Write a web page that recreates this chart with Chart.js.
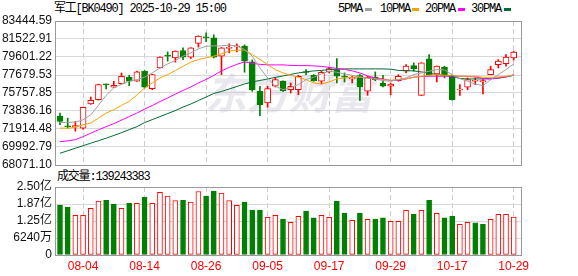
<!DOCTYPE html>
<html lang="zh-CN">
<head>
<meta charset="UTF-8">
<title>军工[BK0490] 日K</title>
<style>
body{margin:0;background:#fff;width:578px;height:276px;overflow:hidden;position:relative;font-family:"Liberation Sans",Arial,sans-serif}
canvas{position:absolute;left:0}
#price{top:0}
#vol{top:175px}
.txt{position:absolute;font-family:"Liberation Mono","Noto Sans CJK SC",monospace;font-size:12px;letter-spacing:-1.2px;color:#000;white-space:nowrap;line-height:14px}
.dash{position:absolute;top:8px;width:7px;height:3px}
</style>
</head>
<body>

<div class="txt" style="left:54px;top:2px">军工[BK0490] 2025-10-29 15:00</div>

<div class="txt" style="left:338px;top:2px">5PMA</div><div class="dash" style="left:365px;background:#a0a0a0"></div>
<div class="txt" style="left:380px;top:2px">10PMA</div><div class="dash" style="left:412px;background:#f5a300"></div>
<div class="txt" style="left:425px;top:2px">20PMA</div><div class="dash" style="left:458px;background:#ff00ff"></div>
<div class="txt" style="left:471px;top:2px">30PMA</div><div class="dash" style="left:504px;background:#006b33"></div>

<div class="txt" style="left:57px;top:170px">成交量:139243383</div>

<canvas id="price" width="578" height="180"></canvas>
<canvas id="vol" width="578" height="101"></canvas>

<script src="https://cdn.jsdelivr.net/npm/chart.js@4.4.1/dist/chart.umd.min.js"></script>
<script>
// trading days shown on the chart
var dates = ['07-30','07-31','08-01','08-04','08-05','08-06','08-07','08-08','08-11','08-12',
  '08-13','08-14','08-15','08-18','08-19','08-20','08-21','08-22','08-25','08-26',
  '08-27','08-28','08-29','09-01','09-02','09-03','09-04','09-05','09-08','09-09',
  '09-10','09-11','09-12','09-15','09-16','09-17','09-18','09-19','09-22','09-23',
  '09-24','09-25','09-26','09-29','09-30','10-09','10-10','10-13','10-14','10-15',
  '10-16','10-17','10-20','10-21','10-22','10-23','10-24','10-27','10-28','10-29'];
var tickDates = ['08-04','08-14','08-26','09-05','09-17','09-29','10-17','10-29'];

var open = [73290,72240,72150,72006,74579,75040,76680,76370,76755,77441,
  77013,78085,76220,78438,79760,79510,80293,79586,81043,81740,
  81655,79693,80529,80690,80765,79082,75940,74686,76477,77013,
  76112,76112,78020,77656,77013,78010,78256,77506,77259,77613,
  75940,77441,76830,76477,77077,78085,78685,75512,79403,77795,
  78514,77656,76080,76370,77013,76938,77720,78792,78899,79510];
var high = [73610,73078,72725,74258,75330,76700,76700,77010,77902,77656,
  78085,78150,77763,79617,80154,80260,80582,80600,81870,82190,
  81976,80615,81011,81011,80904,79296,76477,76477,77366,77045,
  76830,77656,78256,77720,78085,78514,79435,77902,77549,77720,
  77549,78010,77656,76830,77720,78792,78974,79000,79864,78650,
  78600,77700,76648,77366,77366,77184,78620,79328,79864,80229];
var low = [72380,72006,71685,71900,74550,75000,76190,76350,76700,76541,
  76990,76290,76112,78406,79157,79050,79328,79435,80658,81226,
  79500,77720,80046,80154,77977,75940,73325,74226,76402,75920,
  75758,75576,77720,77013,76723,77902,76830,76938,76830,74976,
  75512,77077,76402,75576,77013,77902,78085,75480,77656,76938,
  77366,74990,75512,76112,76648,75651,77700,78438,78620,79264];
var close = [72720,72156,72270,74226,74976,76648,76620,76580,77549,77012,
  78010,76370,77720,79586,79700,80228,79586,80582,81835,81660,
  79586,80582,80636,80797,79157,76080,74504,76219,77184,76005,
  76477,77549,77950,77077,77977,78363,77549,77442,77441,76402,
  77441,77184,76477,76723,77549,78621,78363,78974,77720,78621,
  77720,75040,76155,77184,77120,77077,78256,79157,79586,80122];

var ma5 = [72617,72617,72650,72896,73432,74440,75512,76294,76723,77013,
  77184,77441,77903,78438,78867,79221,79693,80046,80475,80743,
  80797,80797,80872,80765,80400,79693,78438,77366,76477,76112,
  76348,76648,77184,77441,77795,78085,77977,77795,77656,77474,
  77313,77259,77077,77013,77184,77366,77720,77903,78085,78256,
  78224,77720,77291,77013,76723,76541,77184,77720,78256,78867];
var ma10 = [72006,72006,72081,72360,72542,73078,73614,73968,74440,74869,
  75544,76294,76830,77366,77720,78149,78621,79049,79328,79510,
  79693,79939,80229,80336,80336,79864,79328,78792,78256,77902,
  77656,77441,77184,76830,76723,76938,77259,77366,77441,77441,
  77366,77259,77184,77120,77184,77259,77441,77549,77656,77720,
  77656,77656,77549,77549,77549,77441,77420,77474,77549,77656];
var ma20 = [70559,70645,70774,71096,71470,71824,72167,72489,72864,73239,
  73614,74043,74418,74847,75222,75651,76026,76402,76830,77206,
  77634,78117,78492,78814,79082,78921,78814,78760,78760,78760,
  78707,78685,78685,78653,78599,78492,78385,78278,78117,77902,
  77581,77366,77259,77098,77120,77259,77441,77527,77549,77549,
  77549,77549,77549,77527,77474,77313,77291,77366,77474,77720];
var ma30 = [69326,69594,69862,70130,70398,70666,70934,71224,71524,71846,
  72167,72596,72918,73239,73561,73882,74258,74579,74954,75330,
  75705,75920,76187,76455,76723,76938,77098,77259,77420,77581,
  77742,77902,78010,78117,78170,78256,78299,78331,78331,78331,
  78331,78331,78331,78299,78170,78149,78117,78010,77849,77742,
  77634,77527,77313,77259,77259,77259,77259,77334,77474,77634];

var volume = [183000000,176000000,146000000,146000000,171000000,198000000,201000000,187000000,171000000,190000000,
  190000000,212000000,190000000,230000000,216000000,200000000,201000000,194000000,233000000,216000000,
  234000000,227000000,200000000,182000000,194000000,165000000,165000000,138000000,146000000,132000000,
  120000000,142000000,161000000,136000000,146000000,138000000,198000000,154000000,127000000,154000000,
  131000000,132000000,136000000,124000000,124000000,164000000,150000000,164000000,201000000,153000000,
  136000000,143000000,113000000,120000000,118000000,113000000,131000000,149000000,149000000,139243383];
// 1 = red (up) volume bar, 0 = green
var volUp = [0,0,1,1,1,1,0,0,1,0, 1,0,1,1,1,1,0,1,1,0, 0,1,1,1,0,0,0,1,1,0,
  1,1,0,0,1,1,0,0,1,0, 1,0,0,1,1,1,0,1,0,1, 0,0,1,1,0,0,1,1,1,1];

var priceTicks = [68071.10,69992.79,71914.48,73836.16,75757.85,77679.53,79601.22,81522.91,83444.59];
var volTicks = [0,62400000,124800000,187200000,249600000];
var volTickLabels = ['0','6240万','1.25亿','1.87亿','2.50亿'];

var RED = '#ff0000', GREEN = '#008000';
var tickIdx = tickDates.map(function(d){ return dates.indexOf(d); });

var plotBorder = {
  id: 'plotBorder',
  afterDatasetsDraw: function(chart) {
    var a = chart.chartArea, ctx = chart.ctx;
    ctx.save();
    ctx.strokeStyle = '#999';
    ctx.lineWidth = 1;
    ctx.strokeRect(Math.round(a.left) + 0.5, Math.round(a.top) + 0.5,
      Math.round(a.right - a.left) - 1, Math.round(a.bottom - a.top));
    ctx.restore();
  }
};

var watermark = {
  id: 'watermark',
  beforeDatasetsDraw: function(chart) {
    var ctx = chart.ctx;
    ctx.save();
    ctx.font = 'italic bold 42px "Noto Sans CJK SC"';
    ctx.fillStyle = 'rgba(205,205,218,0.45)';
    ctx.textAlign = 'center';
    ctx.textBaseline = 'middle';
    ctx.fillText('东方财富', 289, 93);
    ctx.restore();
  }
};

function xScale(showLabels) {
  return {
    type: 'linear',
    min: -0.65,
    max: 60.08,
    offset: false,
    afterBuildTicks: function(s) { s.ticks = tickIdx.map(function(v){ return {value: v}; }); },
    afterFit: function(s) { s.height = showLabels ? 21 : 0; },
    grid: { color: '#cccccc', drawTicks: false, offset: false },
    border: { display: false, dash: [5, 3] },
    ticks: {
      display: showLabels,
      autoSkip: false,
      maxRotation: 0,
      padding: 4,
      color: RED,
      font: { size: 12, family: 'Liberation Sans' },
      callback: function(v) { return dates[v]; }
    }
  };
}

function pts(arr) { return arr.map(function(v, i){ return {x: i, y: v}; }); }

function maLine(label, arr, color, ord) {
  return { type: 'line', label: label, data: pts(arr), borderColor: color, borderWidth: 1,
    pointRadius: 0, tension: 0, order: ord };
}

var up = close.map(function(c, i){ return c >= open[i]; });

new Chart(document.getElementById('price'), {
  type: 'bar',
  data: {
    datasets: [
      maLine('5PMA', ma5, '#a0a0a0', 0),
      maLine('10PMA', ma10, '#f5a300', 1),
      maLine('20PMA', ma20, '#ff00ff', 2),
      maLine('30PMA', ma30, '#006b33', 3),
      {
        label: 'body',
        data: open.map(function(o, i){ return {x: i, y: [o, close[i]]}; }),
        backgroundColor: up.map(function(u){ return u ? '#ffffff' : GREEN; }),
        borderColor: up.map(function(u){ return u ? RED : GREEN; }),
        borderWidth: 1,
        borderSkipped: false,
        barThickness: 6,
        minBarLength: 1,
        grouped: false,
        order: 5
      },
      {
        label: 'wick',
        data: low.map(function(l, i){ return {x: i, y: [l, high[i]]}; }),
        backgroundColor: up.map(function(u){ return u ? RED : GREEN; }),
        borderWidth: 0,
        barThickness: 1,
        grouped: false,
        order: 6
      }
    ]
  },
  options: {
    responsive: false,
    animation: false,
    layout: { padding: { left: 0, right: 56, top: 21, bottom: 15 } },
    plugins: { legend: { display: false }, tooltip: { enabled: false } },
    scales: {
      x: xScale(false),
      y: {
        min: 68071.10,
        max: 83444.59,
        afterBuildTicks: function(s) { s.ticks = priceTicks.map(function(v){ return {value: v}; }); },
        afterFit: function(s) { s.width = 55; },
        grid: { color: '#d8d8d8', drawTicks: false },
        border: { display: false },
        ticks: {
          autoSkip: false,
          padding: 3,
          color: '#111',
          font: { size: 12, family: 'Liberation Sans' },
          callback: function(v) { return Number(v).toFixed(2); }
        }
      }
    }
  },
  plugins: [watermark, plotBorder]
});

new Chart(document.getElementById('vol'), {
  type: 'bar',
  data: {
    datasets: [{
      label: '成交量',
      data: pts(volume),
      backgroundColor: volUp.map(function(u){ return u ? '#ffffff' : GREEN; }),
      borderColor: volUp.map(function(u){ return u ? RED : GREEN; }),
      borderWidth: 1,
      borderSkipped: false,
      barThickness: 5,
      grouped: false
    }]
  },
  options: {
    responsive: false,
    animation: false,
    layout: { padding: { left: 0, right: 56, top: 12, bottom: 0 } },
    plugins: { legend: { display: false }, tooltip: { enabled: false } },
    scales: {
      x: xScale(true),
      y: {
        min: 0,
        max: 249600000,
        afterBuildTicks: function(s) { s.ticks = volTicks.map(function(v){ return {value: v}; }); },
        afterFit: function(s) { s.width = 55; },
        grid: { color: '#d8d8d8', drawTicks: false },
        border: { display: false },
        ticks: {
          autoSkip: false,
          padding: 3,
          color: '#111',
          font: { size: 12, family: 'Liberation Sans, Noto Sans CJK SC' },
          callback: function(v) { return volTickLabels[volTicks.indexOf(v)]; }
        }
      }
    }
  },
  plugins: [plotBorder]
});
</script>
</body>
</html>
